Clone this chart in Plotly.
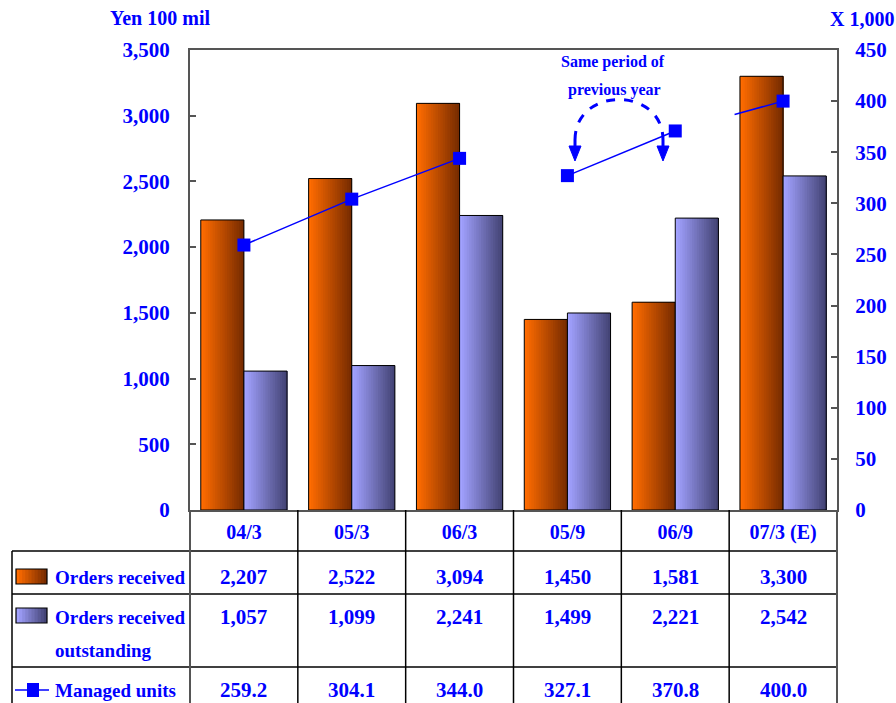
import plotly.graph_objects as go

# ---------------- data ----------------
categories = ["04/3", "05/3", "06/3", "05/9", "06/9", "07/3 (E)"]
orders_received = [2207, 2522, 3094, 1450, 1581, 3300]
orders_outstanding = [1057, 1099, 2241, 1499, 2221, 2542]
managed_units = [259.2, 304.1, 344.0, 327.1, 370.8, 400.0]
left_ticks = list(range(0, 3501, 500))
right_ticks = list(range(0, 451, 50))
line_segments = [[0, 1, 2], [3, 4]]   # connected periods
row_labels = [["Orders received"], ["Orders received", "outstanding"], ["Managed units"]]

# ---------------- layout helpers ----------------
W, H = 896, 703
L, R, T, B = 190, 837, 50, 510


def px(x):
    return (x - L) / (R - L)


def py(y):
    return (B - y) / (B - T)


BLUE = "#0000FF"
FONT = "Liberation Serif"
AXIS_GRAY = "#555555"


def lerp(c1, c2, t):
    return "rgb(%d,%d,%d)" % tuple(round(a + (b - a) * t) for a, b in zip(c1, c2))


ORANGE = ((255, 108, 0), (120, 44, 0))
PURPLE = ((162, 162, 255), (68, 68, 118))

fig = go.Figure()

# ---------------- bars (gradient through stacked slices) ----------------
N = 18
BW = 0.4
xs = list(range(len(categories)))
for vals, off, cols in [(orders_received, -BW, ORANGE), (orders_outstanding, 0.0, PURPLE)]:
    for k in range(N):
        fig.add_bar(
            x=xs, y=vals, offset=off + k * BW / N, width=BW * (N - k) / N,
            marker=dict(color=lerp(cols[0], cols[1], k / (N - 1)), line=dict(width=0)),
            yaxis="y", showlegend=False, hoverinfo="skip",
        )
    fig.add_bar(
        x=xs, y=vals, offset=off, width=BW,
        marker=dict(color="rgba(0,0,0,0)", line=dict(color="black", width=1)),
        yaxis="y", showlegend=False, hoverinfo="skip",
    )

# ---------------- managed units line ----------------
for seg in line_segments:
    fig.add_scatter(
        x=seg, y=[managed_units[i] for i in seg], mode="lines",
        line=dict(color=BLUE, width=1.5), yaxis="y2", showlegend=False, hoverinfo="skip",
    )
# short lead-in stub for the estimate point
frac = 0.45
last, prev = len(managed_units) - 1, len(managed_units) - 2
fig.add_scatter(
    x=[last - frac, last],
    y=[managed_units[last] - frac * (managed_units[last] - managed_units[prev]), managed_units[last]],
    mode="lines", line=dict(color=BLUE, width=1.5), yaxis="y2", showlegend=False, hoverinfo="skip",
)
fig.add_scatter(
    x=xs, y=managed_units, mode="markers",
    marker=dict(symbol="square", size=13, color=BLUE), yaxis="y2", showlegend=False, hoverinfo="skip",
)

# ---------------- shapes: table, legend icons, arc ----------------
shapes = []


def hline(y, x0, x1, color="black", w=1.5):
    shapes.append(dict(type="line", xref="paper", yref="paper", x0=px(x0), x1=px(x1),
                       y0=py(y), y1=py(y), line=dict(color=color, width=w)))


def vline(x, y0, y1, color="black", w=1.5):
    shapes.append(dict(type="line", xref="paper", yref="paper", x0=px(x), x1=px(x),
                       y0=py(y0), y1=py(y1), line=dict(color=color, width=w)))


for y in (551, 594, 667):
    hline(y, 12, R)
vline(12, 551, 705)
cw = (R - L) / len(categories)
for i in range(1, len(categories)):
    vline(L + i * cw, B, 705)
vline(L, B, 705, AXIS_GRAY, 2)
vline(R, B, 705, AXIS_GRAY, 2)


def grad_rect(x0, y0, x1, y1, cols, n=10):
    step = (x1 - x0) / n
    for k in range(n):
        shapes.append(dict(type="rect", xref="paper", yref="paper",
                           x0=px(x0 + k * step), x1=px(x1), y0=py(y1), y1=py(y0),
                           fillcolor=lerp(cols[0], cols[1], k / (n - 1)), line=dict(width=0)))
    shapes.append(dict(type="rect", xref="paper", yref="paper", x0=px(x0), x1=px(x1),
                       y0=py(y1), y1=py(y0), fillcolor="rgba(0,0,0,0)",
                       line=dict(color="black", width=1.2)))


grad_rect(16, 569, 47, 584, ORANGE)
grad_rect(16, 608, 47, 623, PURPLE)
hline(690, 15, 49, BLUE, 1.5)
shapes.append(dict(type="rect", xref="paper", yref="paper", x0=px(27), x1=px(39),
                   y0=py(697), y1=py(683), fillcolor=BLUE, line=dict(width=0)))

# dashed arc with arrowheads
ax0, ax1, ay, atop = 575, 663, 140, 86
arc = "M %f,%f C %f,%f %f,%f %f,%f" % (px(ax0), py(ay), px(ax0), py(atop), px(ax1), py(atop), px(ax1), py(ay))
shapes.append(dict(type="path", xref="paper", yref="paper", path=arc,
                   line=dict(color=BLUE, width=3, dash="dash")))
for cx in (ax0, ax1):
    shapes.append(dict(type="line", xref="paper", yref="paper", x0=px(cx), x1=px(cx),
                       y0=py(140), y1=py(150), line=dict(color=BLUE, width=3)))
    tri = "M %f,%f L %f,%f L %f,%f Z" % (px(cx - 6), py(146), px(cx + 6), py(146), px(cx), py(161))
    shapes.append(dict(type="path", xref="paper", yref="paper", path=tri,
                       fillcolor=BLUE, line=dict(color=BLUE, width=1)))

# ---------------- annotations ----------------
ann = []
f21 = dict(family=FONT, size=21, color=BLUE, weight="bold")
f20 = dict(family=FONT, size=20, color=BLUE, weight="bold")
f19 = dict(family=FONT, size=19, color=BLUE, weight="bold")
f16 = dict(family=FONT, size=16, color=BLUE, weight="bold")

ann.append(dict(text="Yen 100 mil", x=px(160), y=py(18), xref="paper", yref="paper",
                showarrow=False, font=f20, xanchor="center", yanchor="middle"))
ann.append(dict(text="X 1,000", x=px(862), y=py(19), xref="paper", yref="paper",
                showarrow=False, font=f20, xanchor="center", yanchor="middle"))
ann.append(dict(text="Same period of", x=px(613), y=py(62), xref="paper", yref="paper",
                showarrow=False, font=f16, xanchor="center", yanchor="middle"))
ann.append(dict(text="previous year", x=px(614), y=py(90), xref="paper", yref="paper",
                showarrow=False, font=f16, xanchor="center", yanchor="middle"))

label_pos = [[577], [617, 650], [690]]
for lines, ys in zip(row_labels, label_pos):
    for lab, ypx in zip(lines, ys):
        ann.append(dict(text=lab, x=px(53), y=py(ypx), xref="paper", yref="paper",
                        showarrow=False, font=f19, xanchor="left", yanchor="middle"))

rows = [
    ([f"{v:,}" for v in orders_received], 577),
    ([f"{v:,}" for v in orders_outstanding], 617),
    ([f"{v:.1f}" for v in managed_units], 690),
]
for texts, ypx in rows:
    for i, t in enumerate(texts):
        ann.append(dict(text=t, x=i, y=py(ypx), xref="x", yref="paper",
                        showarrow=False, font=f21, xanchor="center", yanchor="middle"))

fig.update_layout(
    width=W, height=H,
    margin=dict(l=L, r=W - R, t=T, b=H - B, autoexpand=False),
    paper_bgcolor="white", plot_bgcolor="white",
    barmode="overlay",
    shapes=shapes, annotations=ann,
    xaxis=dict(range=[-0.5, len(categories) - 0.5], tickvals=xs, ticktext=categories,
               showgrid=False, zeroline=False, showline=True, linecolor=AXIS_GRAY, linewidth=2,
               mirror=True, ticks="", tickfont=f20, ticklabelstandoff=3, automargin=False),
    yaxis=dict(range=[0, 3500], tickvals=left_ticks, tickformat=",d", showgrid=False,
               zeroline=False, showline=True, linecolor=AXIS_GRAY, linewidth=2,
               ticks="inside", ticklen=6, tickcolor=AXIS_GRAY, tickwidth=1.5,
               tickfont=f21, ticklabelstandoff=14, automargin=False),
    yaxis2=dict(range=[0, 450], tickvals=right_ticks, overlaying="y", side="right",
                showgrid=False, zeroline=False, showline=True, linecolor=AXIS_GRAY, linewidth=2,
                ticks="inside", ticklen=6, tickcolor=AXIS_GRAY, tickwidth=1.5,
                tickfont=f21, ticklabelstandoff=12, automargin=False),
)

fig.write_html("out.html")
